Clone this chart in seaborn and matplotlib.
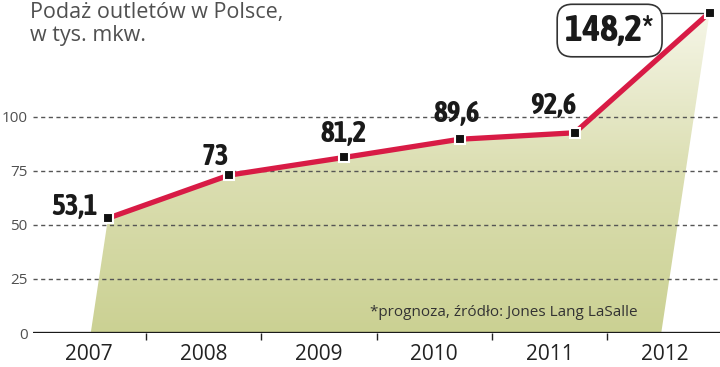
import numpy as np
import matplotlib
matplotlib.use("Agg")
import matplotlib.pyplot as plt
import seaborn as sns
from matplotlib import font_manager
from matplotlib.colors import LinearSegmentedColormap
from matplotlib.patches import Polygon

# dane
years = ["2007", "2008", "2009", "2010", "2011", "2012"]
supply = [53.1, 73, 81.2, 89.6, 92.6, 148.2]
forecast = [False, False, False, False, False, True]
y_ticks = [0, 25, 50, 75, 100]

TITLE = "Podaż outletów w Polsce,\nw tys. mkw."
NOTE = "*prognoza, źródło: Jones Lang LaSalle"

LINE_COLOR = "#d81b45"
TEXT_GRAY = "#505050"

# szukamy wąskiego, pogrubionego kroju na etykiety
narrow_bold = sorted(
    (f for f in font_manager.fontManager.ttflist
     if ("Narrow" in f.name or "Condensed" in f.name or f.stretch == "condensed")
     and f.weight in (700, "bold")),
    key=lambda f: f.name,
)
if narrow_bold:
    LABEL_FONT = font_manager.FontProperties(fname=narrow_bold[0].fname, size=21)
    BOX_FONT = font_manager.FontProperties(fname=narrow_bold[0].fname, size=27)
else:
    LABEL_FONT = font_manager.FontProperties(family="DejaVu Sans", weight="bold", size=16)
    BOX_FONT = font_manager.FontProperties(family="DejaVu Sans", weight="bold", size=20)

sns.set_theme(style="white")
plt.rcParams["font.family"] = ["Open Sans", "DejaVu Sans"]

fig = plt.figure(figsize=(7.2, 3.67), dpi=100)
ax = fig.add_axes([0.046, 0.0926, 0.954, 0.9074])

idx = np.arange(len(years))
# punkty przesunięte w prawo względem środka kategorii
shift = np.full(len(years), 0.22)
shift[0] = 0.17
shift[-1] = 0.39
px = idx + shift
vals = np.array(supply)

# wypełnienie z gradientem
poly_pts = [(px[0] - 0.15, 0)] + list(zip(px, vals)) + [(px[-1] - 0.42, 0)]
poly = Polygon(poly_pts, closed=True, facecolor="none", edgecolor="none")
ax.add_patch(poly)
cmap = LinearSegmentedColormap.from_list("fill", ["#cbd193", "#dcdfb3", "#f8f8ec"])
grad = np.linspace(0, 1, 256).reshape(-1, 1)
img = ax.imshow(grad, cmap=cmap, origin="lower", aspect="auto",
                extent=[-0.48, 5.48, 0, 154], zorder=1)
img.set_clip_path(poly)

# siatka
for t in y_ticks[1:]:
    ax.axhline(t, color="#555555", lw=1, ls=(0, (3, 2.5)), zorder=2)
ax.axhline(0, color="#1a1a1a", lw=2.4, zorder=3)

sns.lineplot(x=px, y=vals, ax=ax, color=LINE_COLOR, lw=3.8, zorder=4,
             marker="s", markersize=7.5, markerfacecolor="#111111",
             markeredgecolor="white", markeredgewidth=1.5, clip_on=False)

# etykiety wartości
offsets = [(-34, 12), (-14, 19), (-1, 24), (-3, 26), (-21, 27), (-100, -18)]
for x, v, f, off in zip(px, vals, forecast, offsets):
    label = f"{v:g}".replace(".", ",") + ("*" if f else "")
    kw = {"fontproperties": LABEL_FONT}
    if f:
        kw["fontproperties"] = BOX_FONT
        kw["bbox"] = dict(boxstyle="round,pad=0.22,rounding_size=0.4",
                          facecolor="white", edgecolor="#333333", lw=1.2)
    ax.annotate(label, (x, v), xytext=off, textcoords="offset pixels",
                ha="center", va="center", color="#1a1a1a", zorder=6, **kw)
ax.plot([px[-1] - 0.42, px[-1]], [vals[-1], vals[-1]], color="#333333",
        lw=1, zorder=3, clip_on=False)

ax.set_xlim(-0.48, 5.48)
ax.set_ylim(0, 154)
ax.set_xticks(idx)
ax.set_xticklabels(years, fontsize=15, color="#222222")
ax.set_xticks(idx[:-1] + 0.5, minor=True)
ax.tick_params(axis="x", which="major", length=0, pad=8)
ax.tick_params(axis="x", which="minor", length=5, width=1, color="#222222",
               direction="out", bottom=True)
ax.set_yticks(y_ticks)
ax.set_yticklabels([str(t) for t in y_ticks], fontsize=11, color=TEXT_GRAY)
ax.tick_params(axis="y", length=0, pad=4)
for s in ax.spines.values():
    s.set_visible(False)
ax.grid(False)

fig.text(0.042, 0.995, TITLE, ha="left", va="top", fontsize=15.5,
         color=TEXT_GRAY, linespacing=1.12)
ax.text(3.6, 6, NOTE, ha="center", va="bottom", fontsize=11,
        color="#333333", zorder=5)

fig.savefig("out.png", dpi=100)
